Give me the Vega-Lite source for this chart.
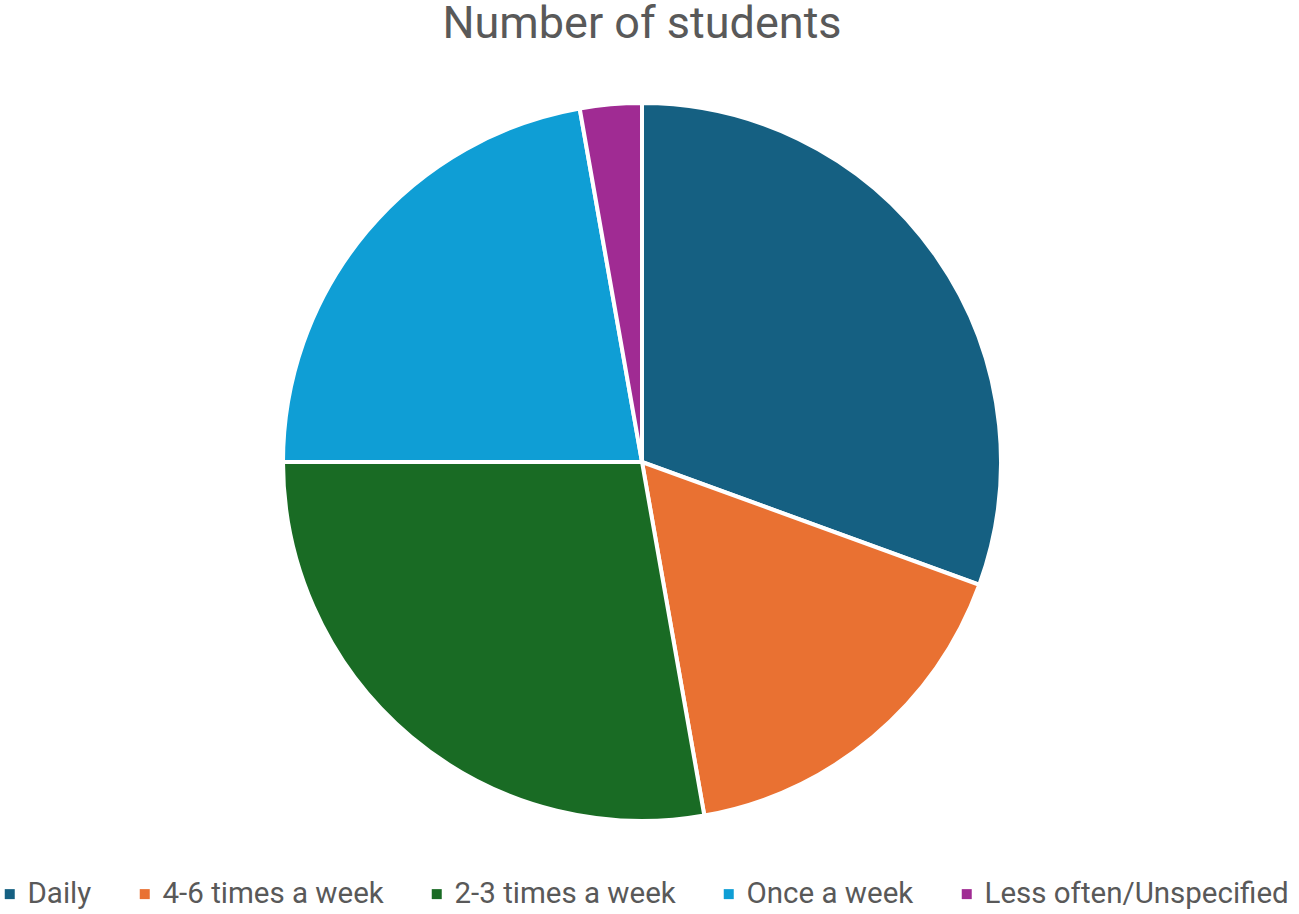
{
  "$schema": "https://vega.github.io/schema/vega-lite/v6.json",
  "width": 1284,
  "height": 724,
  "autosize": {"type": "none"},
  "padding": {"top": 100, "left": 0, "right": 15, "bottom": 90},
  "background": "white",
  "config": {"view": {"stroke": null}},
  "title": {
    "text": "Number of students",
    "font": "Roboto",
    "fontSize": 45,
    "fontWeight": "normal",
    "color": "#595959",
    "anchor": "middle",
    "frame": "group",
    "offset": 48
  },
  "data": {
    "values": [
      {"category": "Daily", "students": 11, "ord": 1},
      {"category": "4-6 times a week", "students": 6, "ord": 2},
      {"category": "2-3 times a week", "students": 10, "ord": 3},
      {"category": "Once a week", "students": 8, "ord": 4},
      {"category": "Less often/Unspecified", "students": 1, "ord": 5}
    ]
  },
  "mark": {"type": "arc", "outerRadius": 359, "stroke": "white", "strokeWidth": 4},
  "encoding": {
    "theta": {"field": "students", "type": "quantitative", "stack": true},
    "order": {"field": "ord", "type": "quantitative"},
    "color": {
      "field": "category",
      "type": "nominal",
      "scale": {
        "domain": ["Daily", "4-6 times a week", "2-3 times a week", "Once a week", "Less often/Unspecified"],
        "range": ["#156082", "#E97132", "#196B24", "#0F9ED5", "#A02B93"]
      },
      "legend": {
        "title": null,
        "orient": "none",
        "legendX": -5,
        "legendY": 779,
        "direction": "horizontal",
        "columns": 5,
        "columnPadding": 38,
        "symbolType": "square",
        "symbolSize": 100,
        "symbolStrokeWidth": 0,
        "symbolOpacity": 1,
        "labelFont": "Roboto",
        "labelFontSize": 29.5,
        "labelColor": "#595959",
        "labelOffset": 3,
        "labelLimit": 0
      }
    }
  }
}
